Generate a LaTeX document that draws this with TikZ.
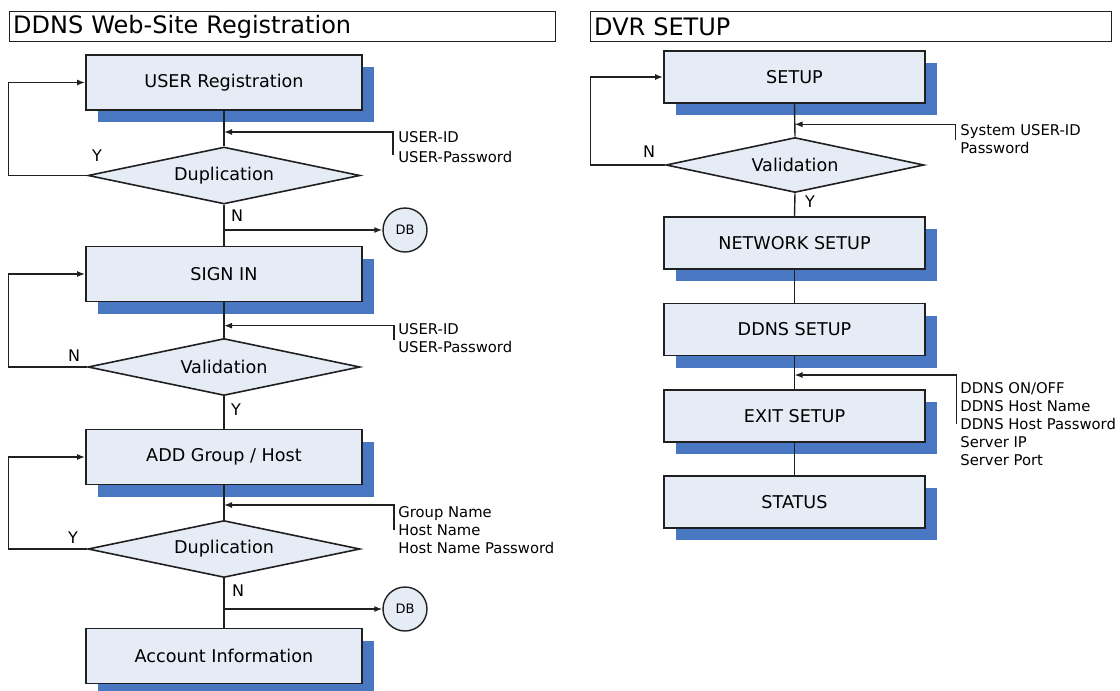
\documentclass[tikz,border=0pt]{standalone}
\usepackage{fontspec}
\setmainfont{DejaVu Sans}
\usetikzlibrary{shapes.geometric,arrows.meta,shadows}
\definecolor{boxfill}{HTML}{E6ECF6}
\definecolor{shadowblue}{HTML}{4A77C1}
\definecolor{linecol}{HTML}{202020}
\begin{document}
\begin{tikzpicture}[x=0.5pt,y=-0.5pt,
  stepbox/.style={rectangle, draw=linecol, line width=0.9pt, fill=boxfill,
    minimum width=138pt, minimum height=27.5pt, inner sep=0pt,
    font=\fontsize{8.8}{10}\selectfont,
    general shadow={fill=shadowblue, shadow xshift=6pt, shadow yshift=-6pt}},
  rstepbox/.style={stepbox, minimum width=130.5pt, minimum height=26pt},
  decide/.style={diamond, aspect=4.75, draw=linecol, line width=0.8pt, fill=boxfill,
    minimum width=136pt, minimum height=28.5pt, inner sep=0pt,
    font=\fontsize{8.8}{10}\selectfont},
  rdecide/.style={decide, aspect=4.7, minimum width=129pt, minimum height=27.5pt},
  dbnode/.style={circle, draw=linecol, line width=0.7pt, fill=boxfill,
    minimum size=22pt, inner sep=0pt, font=\fontsize{6.5}{7}\selectfont},
  conn/.style={draw=linecol, line width=0.7pt},
  arr/.style={conn, -{Latex[length=4pt,width=3pt]}},
  yn/.style={font=\fontsize{8}{9}\selectfont, inner sep=0pt},
  info/.style={font=\fontsize{7.4}{9}\selectfont, align=left, anchor=north west, inner sep=0pt},
  titlebox/.style={draw=linecol, line width=0.7pt, fill=white, anchor=north west,
    inner xsep=2pt, inner ysep=0pt, align=left, font=\fontsize{12}{14}\selectfont},
]
\useasboundingbox (0,0) rectangle (1120,691);

% ---------- titles ----------
\node[titlebox, text width=269.25pt, minimum height=15pt] (t1) at (8.5,11) {DDNS Web-Site Registration};
\node[titlebox, text width=256.75pt, minimum height=14.75pt] (t2) at (589.5,11) {DVR SETUP};

% ---------- left flow ----------
\coordinate (loopL) at (8.6,0);
\node[stepbox] (ureg) at (224,82.5) {USER Registration};
\node[decide] (dup1) at (224,175.5) {Duplication};
\node[dbnode] (db1) at (405,230) {DB};
\node[stepbox] (signin) at (224,274) {SIGN IN};
\node[decide] (val1) at (224,367) {Validation};
\node[stepbox] (addgh) at (224,457) {ADD Group / Host};
\node[decide] (dup2) at (224,549) {Duplication};
\node[dbnode] (db2) at (405,609) {DB};
\node[stepbox] (acct) at (224,656) {Account Information};

\draw[conn] (ureg.south) -- (dup1.north);
\draw[conn] (dup1.south) -- (signin.north);
\draw[arr] (dup1.south |- db1.west) -- (db1.west);
\draw[conn] (signin.south) -- (val1.north);
\draw[conn] (val1.south) -- (addgh.north);
\draw[conn] (addgh.south) -- (dup2.north);
\draw[conn] (dup2.south) -- (acct.north);
\draw[arr] (dup2.south |- db2.west) -- (db2.west);

\draw[arr] (dup1.west) -- (dup1.west -| loopL) |- (ureg.west);
\draw[arr] (val1.west) -- (val1.west -| loopL) |- (signin.west);
\draw[arr] (dup2.west) -- (dup2.west -| loopL) |- (addgh.west);

\node[yn] (y1) at (97,156) {Y};
\node[yn] (n1) at (237,216) {N};
\node[yn] (n2) at (74,356) {N};
\node[yn] (y2) at (236,410) {Y};
\node[yn] (y3) at (73,538) {Y};
\node[yn] (n3) at (238,591) {N};

% input brackets
\coordinate (a1) at (393,155); \coordinate (a1t) at (393,132);
\draw[arr] (a1) -- (a1t) -- (a1t -| ureg.south);
\node[info] (i1) at (398,131) {USER-ID\\[1pt]USER-Password};

\coordinate (a2) at (394,340); \coordinate (a2t) at (394,325.7);
\draw[arr] (a2) -- (a2t) -- (a2t -| signin.south);
\node[info] (i2) at (398,323) {USER-ID\\USER-Password};

\coordinate (a3) at (394,530); \coordinate (a3t) at (394,505);
\draw[arr] (a3) -- (a3t) -- (a3t -| addgh.south);
\node[info] (i3) at (398,506) {Group Name\\Host Name\\Host Name Password};

% ---------- right flow ----------
\coordinate (loopR) at (590.4,0);
\node[rstepbox] (setup) at (794.5,77) {SETUP};
\node[rdecide] (val2) at (795,165) {Validation};
\node[rstepbox] (net) at (794.5,243) {NETWORK SETUP};
\node[rstepbox] (ddns) at (794.5,329.5) {DDNS SETUP};
\node[rstepbox] (exit) at (794.5,416) {EXIT SETUP};
\node[rstepbox] (status) at (794.5,501.7) {STATUS};

\draw[conn] (setup.south) -- (val2.north);
\draw[conn] (val2.south) -- (net.north);
\draw[conn] (net.south) -- (ddns.north);
\draw[conn] (ddns.south) -- (exit.north);
\draw[conn] (exit.south) -- (status.north);
\draw[arr] (val2.west) -- (val2.west -| loopR) |- (setup.west);

\node[yn] (n4) at (649,152) {N};
\node[yn] (y4) at (810,202) {Y};

\coordinate (a4) at (955.6,140); \coordinate (a4t) at (955.6,124.3);
\draw[arr] (a4) -- (a4t) -- (a4t -| setup.south);
\node[info] (i4) at (960,124) {System USER-ID\\Password};

\coordinate (a5) at (956.6,424); \coordinate (a5t) at (956.6,375);
\draw[arr] (a5) -- (a5t) -- (a5t -| ddns.south);
\node[info] (i5) at (960,382) {DDNS ON/OFF\\DDNS Host Name\\DDNS Host Password\\Server IP\\Server Port};
\end{tikzpicture}
\end{document}
